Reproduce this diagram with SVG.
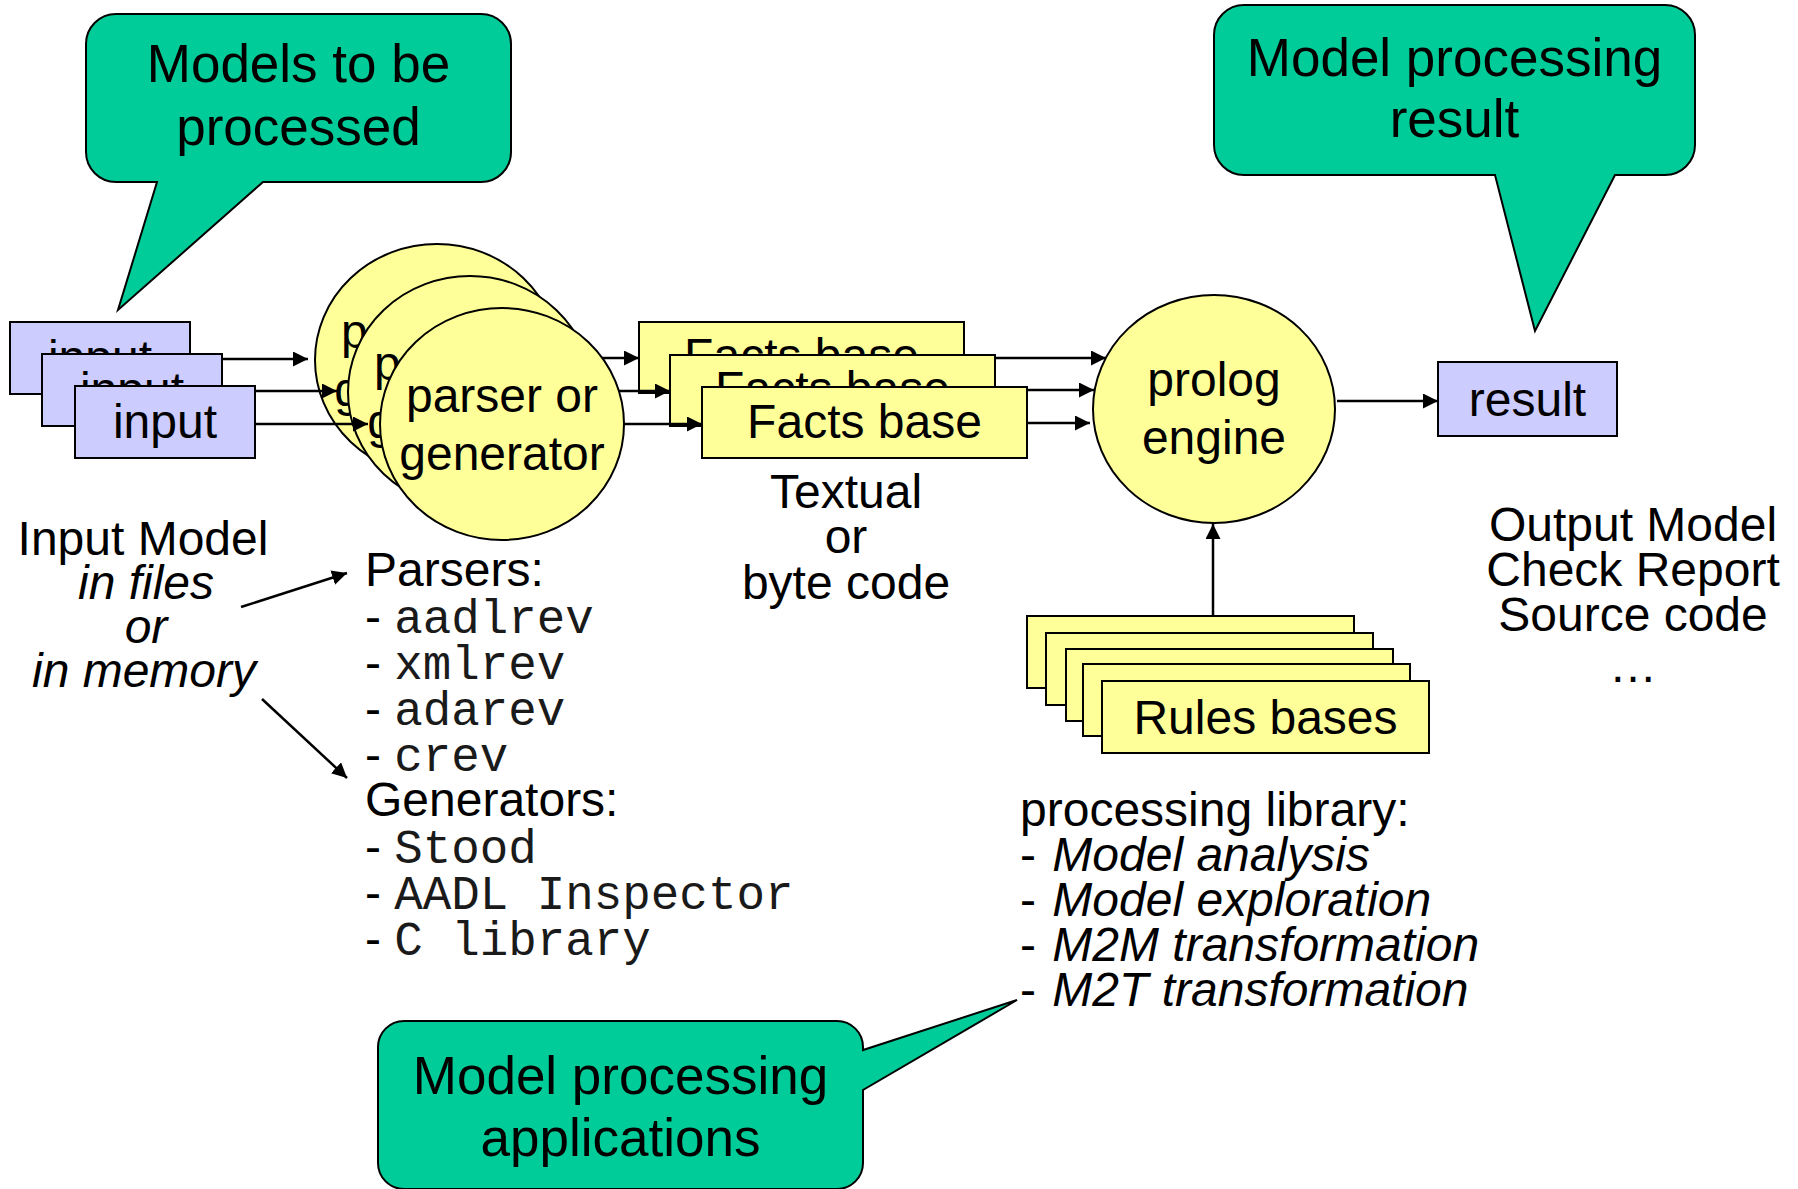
<svg xmlns="http://www.w3.org/2000/svg" width="1798" height="1189" viewBox="0 0 1798 1189">
  <defs>
    <style>
      text { font-family: "Liberation Sans", Arial, sans-serif; font-size: 48px; fill: #000; }
      .callout { fill: #00CC99; stroke: #000; stroke-width: 2; }
      .ctext { font-size: 53px; text-anchor: middle; }
      .blue { fill: #CCCCFF; stroke: #000; stroke-width: 2; }
      .yellow { fill: #FFFF99; stroke: #000; stroke-width: 2; }
      .mid { text-anchor: middle; }
      .mono { font-family: "Liberation Mono", "Courier New", monospace; font-size: 47.5px; fill: #1a1a1a; }
      .it { font-style: italic; }
      #connectors line { stroke: #000; stroke-width: 2.5; marker-end: url(#arrow); }
    </style>
    <marker id="arrow" markerUnits="userSpaceOnUse" markerWidth="16" markerHeight="16" refX="15" refY="7.5" orient="auto">
      <path d="M0,0 L15,7.5 L0,15 Z" fill="#000"/>
    </marker>
  </defs>

  <rect width="1798" height="1189" fill="#fff"/>

  <!-- speech bubbles -->
  <g id="callout-models">
    <path class="callout" d="M116,14 H481 A30,30 0 0 1 511,44 V152 A30,30 0 0 1 481,182 H263 L118,310 L157,182 H116 A30,30 0 0 1 86,152 V44 A30,30 0 0 1 116,14 Z"/>
    <text class="ctext" x="298.5" y="82">Models to be</text>
    <text class="ctext" x="298.5" y="145">processed</text>
  </g>
  <g id="callout-result">
    <path class="callout" d="M1244,5 H1665 A30,30 0 0 1 1695,35 V145 A30,30 0 0 1 1665,175 H1615 L1535,331 L1495,175 H1244 A30,30 0 0 1 1214,145 V35 A30,30 0 0 1 1244,5 Z"/>
    <text class="ctext" x="1454.5" y="76">Model processing</text>
    <text class="ctext" x="1454.5" y="137">result</text>
  </g>
  <g id="callout-applications">
    <path class="callout" d="M404,1021 H837 A26,26 0 0 1 863,1047 V1050 L1017,1000 L863,1090 V1163 A26,26 0 0 1 837,1189 H404 A26,26 0 0 1 378,1163 V1047 A26,26 0 0 1 404,1021 Z"/>
    <text class="ctext" x="620.5" y="1094">Model processing</text>
    <text class="ctext" x="620.5" y="1156">applications</text>
  </g>

  <!-- input models -->
  <g id="input-1">
    <rect class="blue" x="10" y="322" width="180" height="72"/>
    <text class="mid" x="100" y="374">input</text>
  </g>
  <g id="input-2">
    <rect class="blue" x="42" y="354" width="180" height="72"/>
    <text class="mid" x="132" y="406">input</text>
  </g>
  <g id="input-3">
    <rect class="blue" x="75" y="386" width="180" height="72"/>
    <text class="mid" x="165" y="438">input</text>
  </g>

  <!-- parsers / generators -->
  <g id="parser-1">
    <ellipse class="yellow" cx="437" cy="360" rx="122" ry="116"/>
    <text class="mid" x="437" y="348">parser or</text>
    <text class="mid" x="437" y="406">generator</text>
  </g>
  <g id="parser-2">
    <ellipse class="yellow" cx="470" cy="392" rx="122" ry="116"/>
    <text class="mid" x="470" y="380">parser or</text>
    <text class="mid" x="470" y="438">generator</text>
  </g>
  <g id="parser-3">
    <ellipse class="yellow" cx="502" cy="424" rx="122" ry="116"/>
    <text class="mid" x="502" y="412">parser or</text>
    <text class="mid" x="502" y="470">generator</text>
  </g>

  <!-- facts bases -->
  <g id="facts-1">
    <rect class="yellow" x="639" y="322" width="325" height="71"/>
    <text class="mid" x="801.5" y="372">Facts base</text>
  </g>
  <g id="facts-2">
    <rect class="yellow" x="670" y="355" width="325" height="71"/>
    <text class="mid" x="832.5" y="405">Facts base</text>
  </g>
  <g id="facts-3">
    <rect class="yellow" x="702" y="387" width="325" height="71"/>
    <text class="mid" x="864.5" y="438">Facts base</text>
  </g>

  <!-- engine and result -->
  <g id="prolog-engine">
    <ellipse class="yellow" cx="1214" cy="409" rx="121" ry="114"/>
    <text class="mid" x="1214" y="396">prolog</text>
    <text class="mid" x="1214" y="454">engine</text>
  </g>
  <g id="result">
    <rect class="blue" x="1438" y="362" width="179" height="74"/>
    <text class="mid" x="1527.5" y="416">result</text>
  </g>

  <!-- rules bases -->
  <g id="rules-bases">
    <rect class="yellow" x="1027" y="616" width="327" height="72"/>
    <rect class="yellow" x="1046" y="633" width="327" height="72"/>
    <rect class="yellow" x="1066" y="649" width="327" height="72"/>
    <rect class="yellow" x="1083" y="664" width="327" height="72"/>
    <rect class="yellow" x="1102" y="681" width="327" height="72"/>
    <text class="mid" x="1265.5" y="734">Rules bases</text>
  </g>

  <!-- annotations -->
  <g id="input-model-label">
    <text class="mid" x="143" y="555">Input Model</text>
    <text class="mid it" x="146" y="599">in files</text>
    <text class="mid it" x="146" y="643">or</text>
    <text class="mid it" x="144" y="687">in memory</text>
  </g>
  <g id="tools-list">
    <text x="365" y="586">Parsers:</text>
    <text x="365" y="633">- <tspan class="mono">aadlrev</tspan></text>
    <text x="365" y="679">- <tspan class="mono">xmlrev</tspan></text>
    <text x="365" y="725">- <tspan class="mono">adarev</tspan></text>
    <text x="365" y="771">- <tspan class="mono">crev</tspan></text>
    <text x="365" y="816">Generators:</text>
    <text x="365" y="863">- <tspan class="mono">Stood</tspan></text>
    <text x="365" y="909">- <tspan class="mono">AADL Inspector</tspan></text>
    <text x="365" y="955">- <tspan class="mono">C library</tspan></text>
  </g>
  <g id="facts-label">
    <text class="mid" x="846" y="508">Textual</text>
    <text class="mid" x="846" y="553">or</text>
    <text class="mid" x="846" y="599">byte code</text>
  </g>
  <g id="library-list">
    <text x="1020" y="826">processing library:</text>
    <text x="1020" y="871">- <tspan class="it" dx="3">Model analysis</tspan></text>
    <text x="1020" y="916">- <tspan class="it" dx="3">Model exploration</tspan></text>
    <text x="1020" y="961">- <tspan class="it" dx="3">M2M transformation</tspan></text>
    <text x="1020" y="1006">- <tspan class="it" dx="3">M2T transformation</tspan></text>
  </g>
  <g id="output-list">
    <text class="mid" x="1633" y="541">Output Model</text>
    <text class="mid" x="1633" y="586">Check Report</text>
    <text class="mid" x="1633" y="631">Source code</text>
    <text class="mid" x="1633" y="682">…</text>
  </g>

  <!-- data flow -->
  <g id="connectors">
    <line x1="222" y1="359" x2="308" y2="359"/>
    <line x1="255" y1="391" x2="337" y2="391"/>
    <line x1="256" y1="424" x2="368" y2="424"/>
    <line x1="602" y1="358" x2="639" y2="358"/>
    <line x1="619" y1="391" x2="670" y2="391"/>
    <line x1="624" y1="424" x2="702" y2="424"/>
    <line x1="995" y1="358" x2="1106" y2="358"/>
    <line x1="1027" y1="390" x2="1094" y2="390"/>
    <line x1="1027" y1="423" x2="1090" y2="423"/>
    <line x1="1337" y1="401" x2="1438" y2="401"/>
    <line x1="1213" y1="616" x2="1213" y2="524"/>
    <line x1="241" y1="607" x2="347" y2="573"/>
    <line x1="262" y1="699" x2="347" y2="778"/>
  </g>
</svg>
